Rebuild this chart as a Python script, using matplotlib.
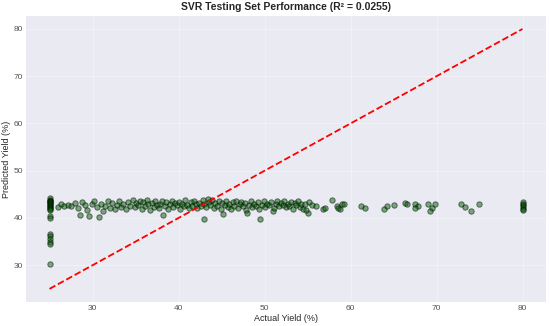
import matplotlib
matplotlib.use('Agg')
import matplotlib.pyplot as plt

# actual vs predicted yield (%)
actual_low = [25.0] * 21
pred_low = [44.2, 43.9, 43.7, 43.5, 43.3, 43.1, 42.9, 42.7, 42.5, 42.3, 42.1,
            41.9, 41.6, 40.4, 39.9, 36.6, 36.1, 35.6, 35.0, 34.5, 30.2]

actual_mid = [26.0, 26.3, 26.7, 27.1, 27.5, 28.0, 28.3, 28.5, 28.8, 29.1, 29.4, 29.6,
              29.9, 30.2, 30.5, 30.7, 31.0, 31.2, 31.5, 31.8, 32.0, 32.3, 32.6, 32.8,
              33.1, 33.3, 33.6, 33.9, 34.1, 34.4,
              34.7, 34.9, 35.1, 35.3, 35.5, 35.7, 35.9, 36.1, 36.3, 36.5, 36.7, 36.9,
              37.1, 37.3, 37.5, 37.7, 37.9, 38.1, 38.2, 38.4, 38.6, 38.8, 39.0, 39.2,
              39.4, 39.6, 39.8, 40.0, 40.2, 40.4, 40.6, 40.8, 41.0, 41.2, 41.4, 41.6,
              41.8, 42.0, 42.2, 42.4, 42.6, 42.8, 43.0, 43.0, 43.2, 43.4, 43.5, 43.7]
pred_mid = [42.4, 43.0, 42.6, 42.8, 42.5, 43.1, 42.2, 40.6, 43.4, 42.7, 41.6, 40.4,
            42.9, 43.5, 42.3, 40.2, 43.0, 41.4, 42.6, 43.7, 42.1, 43.2, 41.8, 42.8,
            43.6, 42.4, 43.0, 41.9, 43.4, 42.6,
            43.9, 42.3, 43.1, 42.7, 43.6, 42.0, 43.3, 42.5, 43.8, 42.9, 41.7, 43.2,
            42.4, 43.5, 42.8, 42.1, 43.0, 43.7, 40.6, 42.6, 43.3, 41.9, 42.9, 43.6,
            42.3, 43.1, 42.7, 43.4, 42.0, 43.0, 42.5, 43.8, 42.8, 42.2, 43.3, 42.6,
            43.6, 42.9, 42.1, 43.2, 42.6, 43.9, 39.8, 43.0, 42.4, 44.1, 43.4, 42.7]

actual_high = [43.9, 44.1, 44.3, 44.5, 44.7, 44.9, 45.1, 45.2, 45.4, 45.5, 45.7, 45.9,
               46.1, 46.3, 46.5, 46.7, 46.9, 47.1, 47.3, 47.5, 47.7, 47.9, 48.0, 48.2,
               48.4, 48.6, 48.8, 49.0, 49.2, 49.4, 49.5, 49.7, 49.9, 50.1, 50.3, 50.5,
               50.7, 51.0, 51.1, 51.3, 51.5, 51.7, 51.9, 52.1, 52.3, 52.5, 52.7, 52.9,
               53.1, 53.3, 53.5, 53.7, 53.9, 54.1, 54.3, 54.5, 54.7, 55.0, 54.8, 55.2,
               55.5, 56.0, 56.8, 57.0]
pred_high = [43.8, 42.2, 43.1, 42.6, 43.5, 42.0, 43.2, 40.9, 42.7, 43.6, 42.4, 43.0,
             41.8, 43.3, 42.6, 43.7, 42.2, 42.9, 43.4, 42.5, 43.1, 41.6, 41.1, 42.8,
             43.5, 42.3, 43.0, 42.6, 43.3, 41.9, 39.8, 42.8, 43.6, 42.4, 43.0, 42.7,
             43.4, 41.5, 42.2, 42.9, 43.5, 42.5, 43.1, 42.8, 43.7, 42.3, 43.0, 42.6,
             43.4, 42.0, 43.2, 42.7, 43.6, 42.4, 43.0, 41.8, 42.9, 41.1, 41.6, 43.3,
             42.8, 42.6, 41.9, 42.1]

actual_top = [57.9, 58.4, 58.8, 59.0, 59.3, 58.6, 61.2, 61.7, 63.9, 64.2, 65.0,
              66.3, 66.6, 67.5, 67.8, 67.5, 69.0, 69.8, 69.5, 69.2,
              72.8, 73.3, 74.0, 74.9, 80.0, 80.0, 80.0, 80.0, 80.0, 80.0]
pred_top = [43.8, 42.6, 41.9, 42.9, 43.0, 42.2, 42.6, 42.1, 41.9, 42.6, 42.8,
            43.2, 43.0, 43.0, 42.6, 42.1, 43.0, 43.0, 42.1, 41.5,
            43.0, 42.3, 41.5, 43.0, 43.3, 43.0, 42.7, 42.4, 42.0, 41.6]

actual = actual_low + actual_mid + actual_high + actual_top
predicted = pred_low + pred_mid + pred_high + pred_top

plt.style.use('seaborn-v0_8-darkgrid')
fig = plt.figure(figsize=(5.5, 3.26), dpi=100)
ax = fig.add_axes([0.047, 0.074, 0.946, 0.877])

ax.scatter(actual, predicted, s=15, color='darkgreen', alpha=0.5,
           edgecolors='black', linewidths=0.7)
lo, hi = min(actual), max(actual)
ax.plot([lo, hi], [lo, hi], 'r--', lw=1.3)

ax.set_xticks([30, 40, 50, 60, 70, 80])
ax.set_yticks([30, 40, 50, 60, 70, 80])
ax.tick_params(labelsize=6, colors='#555555', pad=2)
ax.set_xlabel('Actual Yield (%)', fontsize=6.5, labelpad=2)
ax.set_ylabel('Predicted Yield (%)', fontsize=6.5, labelpad=2)
ax.set_title('SVR Testing Set Performance (R² = 0.0255)', fontsize=7.5,
             fontweight='bold', pad=4)
ax.grid(True, alpha=0.3)

fig.savefig('out.png', dpi=100)
